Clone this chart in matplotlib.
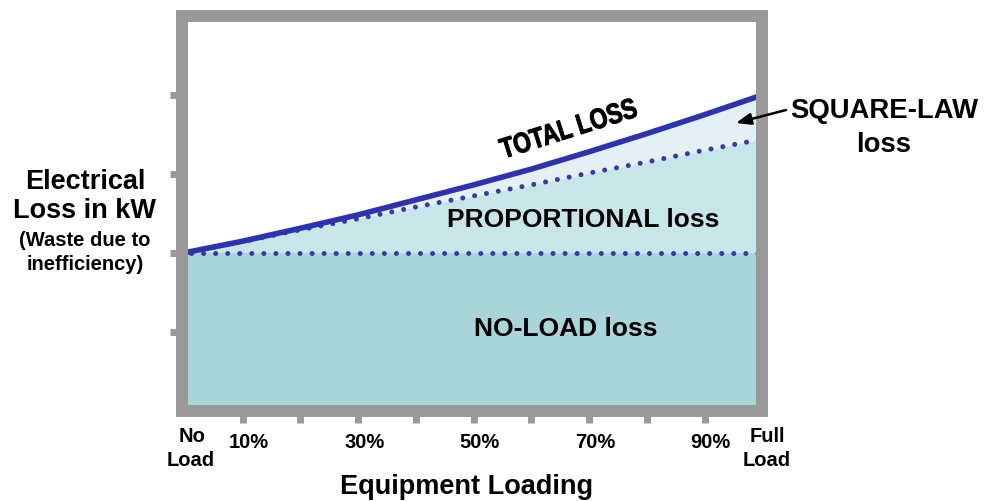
import numpy as np
import matplotlib.pyplot as plt
from matplotlib.textpath import TextPath
from matplotlib.patches import PathPatch
from matplotlib.font_manager import FontProperties
from matplotlib.transforms import Affine2D

plt.rcParams['font.family'] = ['Liberation Sans', 'DejaVu Sans']
plt.rcParams['font.weight'] = 'bold'

# loss components (y in arbitrary kW units)
load = [0, 10, 20, 30, 40, 50, 60, 70, 80, 90, 100]
no_load = [2.0, 2.0, 2.0, 2.0, 2.0, 2.0, 2.0, 2.0, 2.0, 2.0, 2.0]
proportional = [0.0, 0.14, 0.29, 0.43, 0.58, 0.72, 0.86, 1.01, 1.15, 1.30, 1.44]
square_law = [0.0, 0.006, 0.02, 0.05, 0.09, 0.14, 0.20, 0.27, 0.36, 0.45, 0.56]

major_ticks = [10, 30, 50, 70, 90]
major_labels = ['10%', '30%', '50%', '70%', '90%']
minor_ticks = [20, 40, 60, 80]
y_ticks = [1, 2, 3, 4]

W, H = 995, 501
GRAY = '#999999'
BLUE = '#2d33b0'
DOT = '#3838a8'

def fx(px):
    return px / W

def fy(py):
    return 1 - py / H

fig = plt.figure(figsize=(W / 100, H / 100), dpi=100)
ax = fig.add_axes([fx(182), fy(410.5), (762.5 - 182) / W, 394.5 / H])

x = np.array(load)
base = np.array(no_load)
prop_top = base + np.array(proportional)
total = prop_top + np.array(square_law)

ax.fill_between(x, 0, base, color='#a8d5d9', lw=0, zorder=1)
ax.fill_between(x, base, prop_top, color='#c7e6e8', lw=0, zorder=1)
ax.fill_between(x, prop_top, total, color='#e5f0f5', lw=0, zorder=1)

dots = (1.2, (0.01, 2.4))
ax.plot(x, base, color=DOT, lw=3.6, linestyle=dots, dash_capstyle='round', zorder=2)
ax.plot(x, prop_top, color=DOT, lw=3.6, linestyle=dots, dash_capstyle='round', zorder=2)
ax.plot(x, total, color=BLUE, lw=4.0, solid_capstyle='butt', zorder=3)

ax.set_xlim(-0.5, 100)
ax.set_ylim(0, 5)

for s in ax.spines.values():
    s.set_color(GRAY)
    s.set_linewidth(8.6)
    s.set_zorder(5)

ax.set_xticks(major_ticks)
ax.set_xticks(minor_ticks, minor=True)
ax.set_xticklabels([])
ax.set_yticks(y_ticks)
ax.set_yticklabels([])
ax.tick_params(which='both', direction='out', length=8.6, width=5, color=GRAY)

# tick labels placed by hand under the frame
for t, lab in zip(major_ticks, major_labels):
    px = 182 + (t + 0.5) / 100.5 * 580.5
    fig.text(fx(px + 6), fy(448), lab, ha='center', va='baseline', fontsize=14.5)

fig.text(fx(192), fy(442), 'No', ha='center', va='baseline', fontsize=14.5)
fig.text(fx(191), fy(466), 'Load', ha='center', va='baseline', fontsize=14.5)
fig.text(fx(767), fy(442), 'Full', ha='center', va='baseline', fontsize=14.5)
fig.text(fx(767), fy(466), 'Load', ha='center', va='baseline', fontsize=14.5)

fig.text(fx(467), fy(494.5), 'Equipment Loading', ha='center', va='baseline', fontsize=19.5)

fig.text(fx(85), fy(189), 'Electrical', ha='center', va='baseline', fontsize=19.5)
fig.text(fx(85), fy(218), 'Loss in kW', ha='center', va='baseline', fontsize=19.5)
fig.text(fx(85), fy(246), '(Waste due to', ha='center', va='baseline', fontsize=14.5)
fig.text(fx(85), fy(270), 'inefficiency)', ha='center', va='baseline', fontsize=14.5)

fig.text(fx(583), fy(227), 'PROPORTIONAL loss', ha='center', va='baseline', fontsize=19)
fig.text(fx(566), fy(336), 'NO-LOAD loss', ha='center', va='baseline', fontsize=19)

# condensed, rotated "TOTAL LOSS" drawn as a squeezed text path
tp = TextPath((0, 0), 'TOTAL LOSS', size=28.5,
              prop=FontProperties(family='Liberation Sans', weight='bold'))
bb = tp.get_extents()
tr = (Affine2D().translate(-(bb.x0 + bb.x1) / 2, -(bb.y0 + bb.y1) / 2)
      .scale(0.8, 1).rotate_deg(17.5).translate(568, H - 128))
fig.add_artist(PathPatch(tp, transform=tr, facecolor='black', edgecolor='black', lw=0.7))

fig.text(fx(884), fy(118), 'SQUARE-LAW', ha='center', va='baseline', fontsize=19.8)
fig.text(fx(884), fy(152), 'loss', ha='center', va='baseline', fontsize=19.8)

ax.annotate('', xy=(fx(736), fy(123)), xycoords='figure fraction',
            xytext=(fx(786), fy(110)), textcoords='figure fraction',
            arrowprops=dict(arrowstyle='-|>,head_length=0.9,head_width=0.35',
                            color='black', lw=1.8, shrinkA=0, shrinkB=0),
            zorder=6)

fig.savefig('out.png', dpi=100)
